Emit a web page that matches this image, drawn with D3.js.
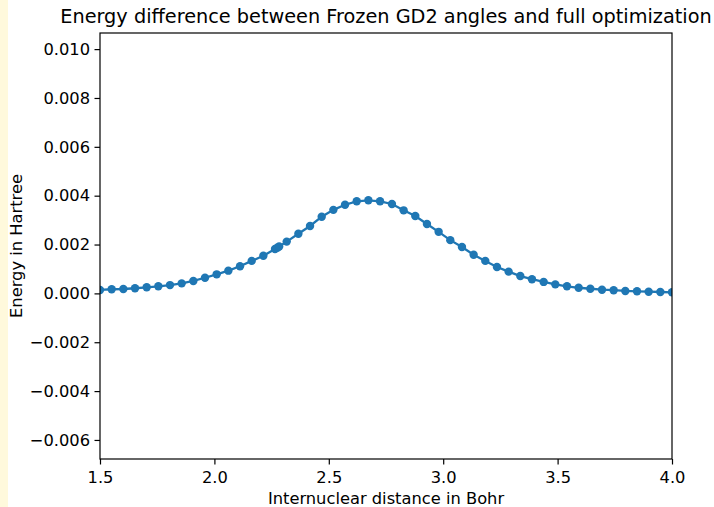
<!DOCTYPE html>
<html>
<head>
<meta charset="utf-8">
<script src="https://cdn.jsdelivr.net/npm/d3@7"></script>
<style>
  body { margin: 0; background: #fff; }
  svg { display: block; font-family: "DejaVu Sans", sans-serif; }
</style>
</head>
<body>
<svg class="chart"></svg>
<script>
const svgWidth = 714;
const svgHeight = 507;

// distance in Bohr: 50 evenly spaced points from 1.5 to 4.0, plus two extra near 2.28
const distances = [
    1.5, 1.551, 1.602, 1.653, 1.704, 1.755, 1.806, 1.857, 1.908, 1.959,
    2.010, 2.061, 2.112, 2.163, 2.214, 2.265, 2.275, 2.283, 2.316, 2.367,
    2.418, 2.469, 2.520, 2.571, 2.622, 2.673, 2.724, 2.776, 2.827, 2.878,
    2.929, 2.980, 3.031, 3.082, 3.133, 3.184, 3.235, 3.286, 3.337, 3.388,
    3.439, 3.490, 3.541, 3.592, 3.643, 3.694, 3.745, 3.796, 3.847, 3.898,
    3.949, 4.0
];

// energy difference in Hartree
const energies = [
    0.00014, 0.00017, 0.00018, 0.00021, 0.00025, 0.00029, 0.00034, 0.00041, 0.00051, 0.00064,
    0.00078, 0.00093, 0.00111, 0.00133, 0.00154, 0.00182, 0.00187, 0.00192, 0.00212, 0.00244,
    0.00276, 0.00314, 0.00342, 0.00363, 0.00377, 0.00381, 0.00377, 0.00366, 0.00340, 0.00317,
    0.00284, 0.00252, 0.00218, 0.00190, 0.00158, 0.00133, 0.00108, 0.00089, 0.00071, 0.00058,
    0.00047, 0.00037, 0.00029, 0.00023, 0.00019, 0.00015, 0.00013, 0.00010, 0.000086, 0.00007,
    0.000057, 0.000045
];

const xTicks = [1.5, 2.0, 2.5, 3.0, 3.5, 4.0];
const yTicks = [-0.006, -0.004, -0.002, 0.000, 0.002, 0.004, 0.006, 0.008, 0.010];

const margin = { left: 100, right: 42, top: 33, bottom: 48 };
const plotW = svgWidth - margin.left - margin.right;
const plotH = svgHeight - margin.top - margin.bottom;

const svg = d3.select(".chart")
    .attr("width", svgWidth)
    .attr("height", svgHeight);

// pale strip on the left edge
svg.append("rect")
    .attr("x", 0).attr("y", 0)
    .attr("width", 8).attr("height", svgHeight)
    .attr("fill", "#fff9dc");

const xScale = d3.scaleLinear()
    .domain([1.5, 4.0])
    .range([0, plotW]);

const yScale = d3.scaleLinear()
    .domain([-0.00678, 0.01066])
    .range([plotH, 0]);

const g = svg.append("g")
    .attr("transform", `translate(${margin.left},${margin.top})`);

g.append("clipPath").attr("id", "clip")
    .append("rect").attr("width", plotW).attr("height", plotH);

const fmtY = d => d3.format(".3f")(d).replace("-", "\u2212");

const xAxis = g.append("g")
    .attr("transform", `translate(0,${plotH})`)
    .call(d3.axisBottom(xScale).tickValues(xTicks).tickFormat(d3.format(".1f")).tickSize(5.5).tickPadding(7));

const yAxis = g.append("g")
    .call(d3.axisLeft(yScale).tickValues(yTicks).tickFormat(fmtY).tickSize(5.5).tickPadding(4.5));

[xAxis, yAxis].forEach(ax => {
    ax.select(".domain").remove();
    ax.selectAll("line").attr("stroke", "#000").attr("stroke-width", 1.2);
    ax.selectAll("text")
        .attr("fill", "#000")
        .attr("font-size", "16.3px")
        .attr("font-family", "'DejaVu Sans'");
});

// data line and markers
const lineGen = d3.line()
    .x((d, i) => xScale(distances[i]))
    .y(d => yScale(d));

const plot = g.append("g").attr("clip-path", "url(#clip)");

plot.append("path")
    .datum(energies)
    .attr("d", lineGen)
    .attr("fill", "none")
    .attr("stroke", "#1f77b4")
    .attr("stroke-width", 2.3);

plot.selectAll("circle")
    .data(energies)
    .enter()
    .append("circle")
    .attr("cx", (d, i) => xScale(distances[i]))
    .attr("cy", d => yScale(d))
    .attr("r", 4.2)
    .attr("fill", "#1f77b4");

// frame
g.append("rect")
    .attr("width", plotW).attr("height", plotH)
    .attr("fill", "none")
    .attr("stroke", "#000")
    .attr("stroke-width", 1.2);

svg.append("text")
    .attr("x", margin.left + plotW / 2)
    .attr("y", 23)
    .attr("text-anchor", "middle")
    .attr("font-size", "19.3px")
    .text("Energy difference between Frozen GD2 angles and full optimization");

svg.append("text")
    .attr("x", margin.left + plotW / 2)
    .attr("y", 504)
    .attr("text-anchor", "middle")
    .attr("font-size", "16.3px")
    .text("Internuclear distance in Bohr");

svg.append("text")
    .attr("transform", `translate(22,${margin.top + plotH / 2}) rotate(-90)`)
    .attr("text-anchor", "middle")
    .attr("font-size", "16.3px")
    .text("Energy in Hartree");
</script>
</body>
</html>
